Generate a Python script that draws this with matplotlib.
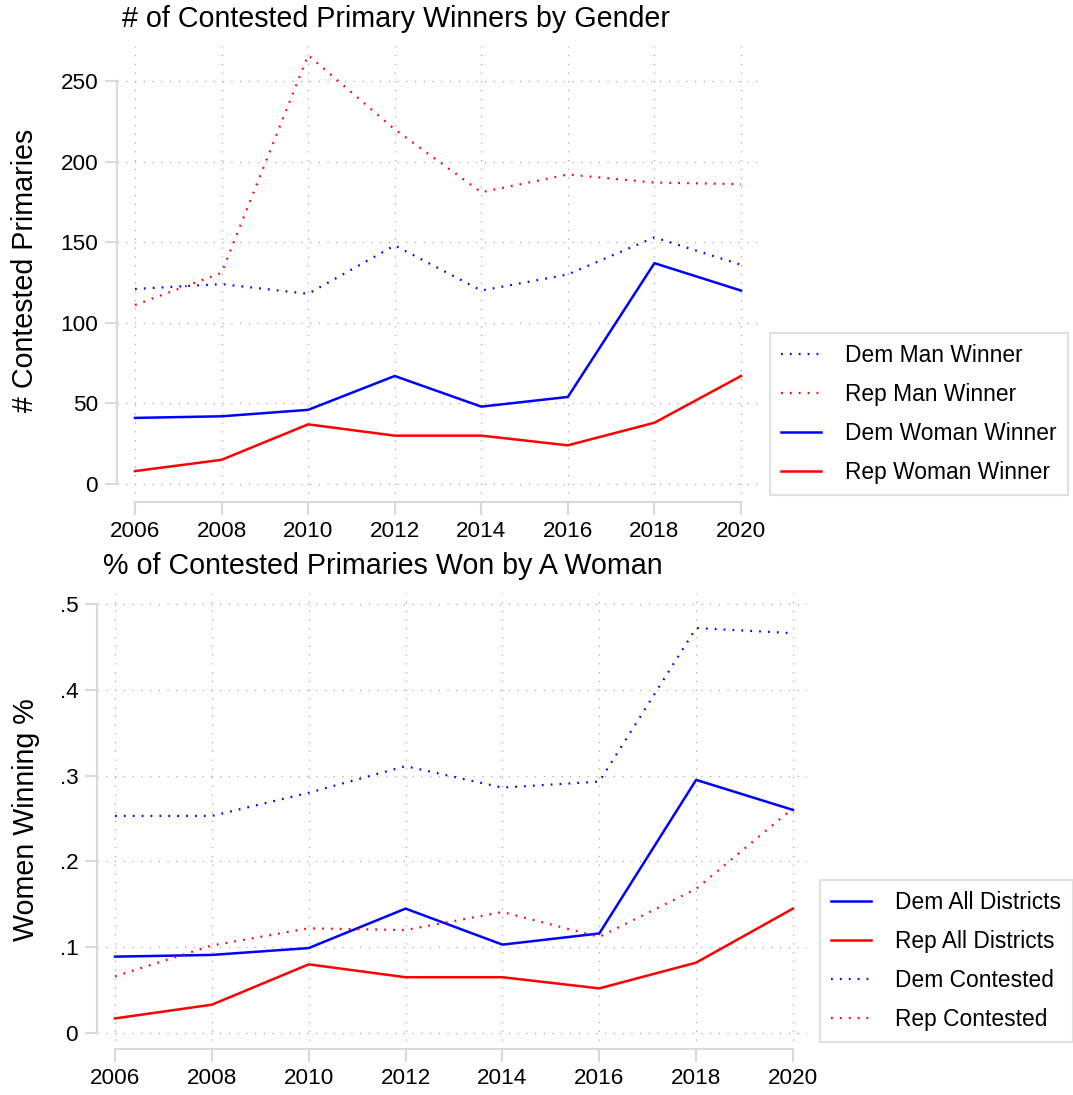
import numpy as np
import matplotlib
matplotlib.use("Agg")
import matplotlib.pyplot as plt

plt.rcParams['font.family'] = ['Liberation Sans', 'DejaVu Sans']

years = [2006, 2008, 2010, 2012, 2014, 2016, 2018, 2020]

# top panel: number of contested primary winners
dem_man = [121, 124, 118, 148, 120, 130, 153, 136]
rep_man = [111, 131, 266, 220, 181, 192, 187, 186]
dem_woman = [41, 42, 46, 67, 48, 54, 137, 120]
rep_woman = [8, 15, 37, 30, 30, 24, 38, 67]

# bottom panel: share won by a woman
dem_all = [0.089, 0.091, 0.099, 0.145, 0.103, 0.116, 0.295, 0.260]
rep_all = [0.017, 0.033, 0.080, 0.065, 0.065, 0.052, 0.082, 0.145]
dem_cont = [0.253, 0.253, 0.280, 0.311, 0.286, 0.293, 0.472, 0.466]
rep_cont = [0.066, 0.102, 0.122, 0.120, 0.141, 0.112, 0.168, 0.262]

top_yticks = [0, 50, 100, 150, 200, 250]
bot_yticks = [0, 0.1, 0.2, 0.3, 0.4, 0.5]
bot_yticklabels = ["0", ".1", ".2", ".3", ".4", ".5"]

BLUE = "#0000ff"
RED = "#ff0000"
AXC = "#d9d9d9"
W, H = 1073, 1095

fig = plt.figure(figsize=(W / 100, H / 100), dpi=100)

def px_axes(l, t, r, b):
    return fig.add_axes([l / W, 1 - b / H, (r - l) / W, (b - t) / H])

def style(ax, yticks, ylabels, ybound):
    for s in ["top", "right"]:
        ax.spines[s].set_visible(False)
    for s in ["left", "bottom"]:
        ax.spines[s].set_color(AXC)
        ax.spines[s].set_linewidth(1.5)
    ax.spines["bottom"].set_bounds(2006, 2020)
    ax.spines["left"].set_bounds(0, ybound)
    ax.set_xticks(years)
    ax.set_yticks(yticks)
    ax.set_yticklabels(ylabels)
    ax.tick_params(axis="x", length=9.5, width=1.5, color=AXC, pad=4, labelsize=16.2)
    ax.tick_params(axis="y", length=8.5, width=1.5, color=AXC, pad=5, labelsize=16.2)
    ax.grid(True, color="#a8a8a8", linewidth=0.9, linestyle=(0, (1, 6)))
    ax.set_axisbelow(True)

dot = dict(linewidth=1.6, linestyle=(0, (0.8, 3.2)))
sol = dict(linewidth=1.8)

# ---- top panel
ax1 = px_axes(117, 46, 760, 502)
ax1.plot(years, dem_man, color=BLUE, label="Dem Man Winner", **dot)
ax1.plot(years, rep_man, color=RED, label="Rep Man Winner", **dot)
ax1.plot(years, dem_woman, color=BLUE, label="Dem Woman Winner", **sol)
ax1.plot(years, rep_woman, color=RED, label="Rep Woman Winner", **sol)
ax1.set_xlim(2006 - 18 / 43.29, 2020 + 19 / 43.29)
ax1.set_ylim(-18 / 1.612, 250 + 35 / 1.612)
style(ax1, top_yticks, [str(v) for v in top_yticks], 250)

# ---- bottom panel
ax2 = px_axes(97, 593, 807, 1049)
ax2.plot(years, dem_all, color=BLUE, label="Dem All Districts", **sol)
ax2.plot(years, rep_all, color=RED, label="Rep All Districts", **sol)
ax2.plot(years, dem_cont, color=BLUE, label="Dem Contested", **dot)
ax2.plot(years, rep_cont, color=RED, label="Rep Contested", **dot)
ax2.set_xlim(2006 - 18 / 48.43, 2020 + 14 / 48.43)
ax2.set_ylim(-16 / 858, 0.5 + 11 / 858)
style(ax2, bot_yticks, bot_yticklabels, 0.5)

# titles and axis titles
fig.text(122 / W, 1 - 19 / H, "# of Contested Primary Winners by Gender",
         ha="left", va="center", fontsize=20.6)
fig.text(103 / W, 1 - 566 / H, "% of Contested Primaries Won by A Woman",
         ha="left", va="center", fontsize=20.6)
fig.text(25 / W, 1 - 270 / H, "# Contested Primaries", rotation=90,
         ha="center", va="center", fontsize=20.6)
fig.text(26 / W, 1 - 820 / H, "Women Winning %", rotation=90,
         ha="center", va="center", fontsize=20.6)

leg_kw = dict(loc="upper left", fontsize=16.4, frameon=True, fancybox=False,
              borderaxespad=0, handlelength=1.75, handletextpad=1.05,
              borderpad=0.5, labelspacing=0.69,
              bbox_transform=fig.transFigure)
lg1 = ax1.legend(bbox_to_anchor=(770 / W, 1 - 333 / H), **leg_kw)
lg2 = ax2.legend(bbox_to_anchor=(820 / W, 1 - 880 / H), **leg_kw)
for lg in (lg1, lg2):
    lg.get_frame().set_edgecolor(AXC)
    lg.get_frame().set_linewidth(1.5)

fig.savefig("out.png", dpi=100)
